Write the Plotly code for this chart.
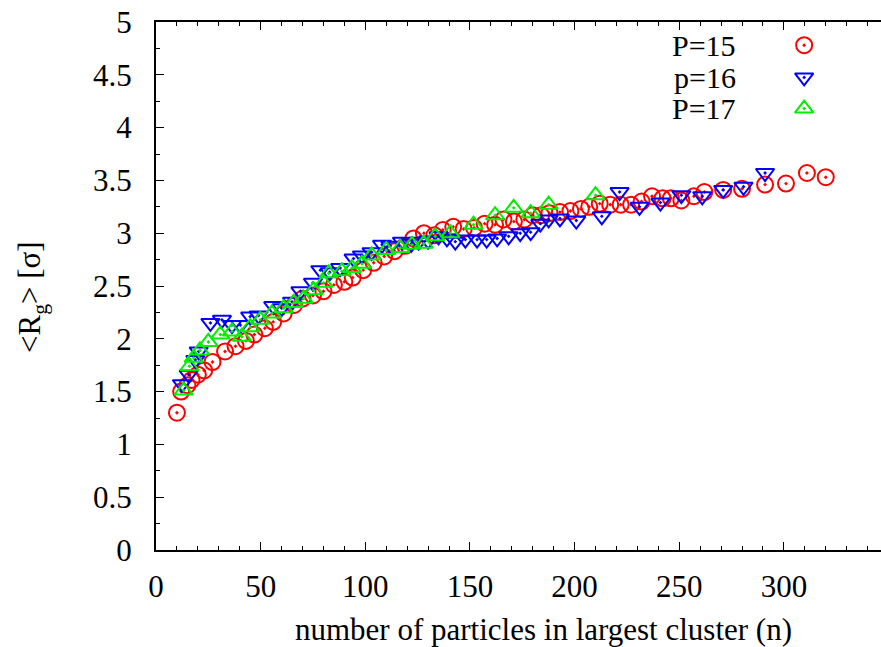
import plotly.graph_objects as go

# ---------------- data ----------------
p15_n = [10, 12, 15, 17, 20, 23, 27, 33, 38, 43, 47, 52, 56, 61, 66, 70, 75, 80, 85, 90,
         94, 99, 104, 109, 114, 119, 123, 128, 133, 137, 142, 147, 152, 157, 162, 166, 171,
         176, 180, 184, 188, 193, 198, 203, 207, 212, 217, 222, 227, 232, 237, 242, 246,
         251, 257, 262, 271, 280, 291, 301, 311, 320]
p15_r = [1.30, 1.50, 1.56, 1.61, 1.66, 1.70, 1.78, 1.88, 1.93, 1.98, 2.04, 2.10, 2.16, 2.24,
         2.32, 2.38, 2.41, 2.45, 2.51, 2.54, 2.58, 2.65, 2.72, 2.78, 2.83, 2.88, 2.95, 3.00,
         2.98, 3.03, 3.06, 3.04, 3.05, 3.09, 3.08, 3.13, 3.11, 3.13, 3.17, 3.17, 3.19, 3.20,
         3.21, 3.23, 3.25, 3.28, 3.27, 3.27, 3.27, 3.30, 3.35, 3.33, 3.33, 3.31, 3.35, 3.39,
         3.41, 3.42, 3.46, 3.47, 3.57, 3.53]

p16_n = [12.4, 15.6, 18.8, 20.4, 26, 31.5, 36.3, 40.3, 45, 49, 56, 60, 65, 69, 75, 78.5, 83,
         88, 94.4, 98.4, 103, 108, 112, 117.5, 122, 125.5, 130, 135, 139, 143, 147.8, 153.4,
         158, 163, 168.5, 174, 179, 183.6, 187.6, 193, 200.8, 213, 221.5, 231, 241, 251, 261,
         271, 280.7, 291]
p16_r = [1.57, 1.66, 1.80, 1.88, 2.15, 2.18, 2.13, 2.13, 2.21, 2.22, 2.31, 2.29, 2.35, 2.45,
         2.53, 2.65, 2.63, 2.67, 2.76, 2.79, 2.82, 2.89, 2.88, 2.92, 2.90, 2.92, 2.93, 2.97,
         2.95, 2.92, 2.94, 2.94, 2.94, 2.95, 2.97, 3.00, 3.01, 3.09, 3.13, 3.14, 3.12, 3.16,
         3.39, 3.25, 3.29, 3.36, 3.35, 3.41, 3.44, 3.57]

p17_n = [13.2, 16, 18, 21, 25, 30.7, 36.3, 41, 45, 49.8, 55.4, 61, 65.7, 70.5, 75.3, 80, 82.5,
         88.8, 93.6, 98.4, 103, 110, 116.7, 122.3, 127.9, 133.4, 140.6, 151.7, 162, 170.9,
         179, 187.6, 210]
p17_r = [1.51, 1.74, 1.82, 1.89, 1.97, 2.04, 2.07, 2.02, 2.11, 2.18, 2.24, 2.29, 2.34, 2.38,
         2.46, 2.53, 2.62, 2.64, 2.67, 2.71, 2.79, 2.84, 2.86, 2.89, 2.90, 2.97, 3.00, 3.08,
         3.17, 3.24, 3.19, 3.27, 3.36]

series_names = ["P=15", "p=16", "P=17"]
colors = ["#ff0000", "#0000ff", "#00ee00"]
symbols = ["circle-open-dot", "triangle-down-open-dot", "triangle-up-open-dot"]
sizes = [16, 16, 16]

FONT = "'Liberation Serif', 'Times New Roman', Times, serif"
FS = 31

fig = go.Figure()
for n, r, c, s, sz, name in zip([p15_n, p16_n, p17_n], [p15_r, p16_r, p17_r], colors,
                                symbols, sizes, series_names):
    fig.add_trace(go.Scatter(x=n, y=r, mode="markers", name=name, showlegend=False,
                             marker=dict(symbol=s, size=sz, color=c, line=dict(width=2, color=c))))

# custom legend (text left, symbol right, like gnuplot)
leg_y = [0.956, 0.895, 0.836]
for name, c, s, sz, yy in zip(series_names, colors, symbols, sizes, leg_y):
    fig.add_trace(go.Scatter(x=[0.894], y=[yy], xaxis="x2", yaxis="y2", mode="markers",
                             showlegend=False, hoverinfo="skip",
                             marker=dict(symbol=s, size=sz, color=c, line=dict(width=2, color=c))))
    fig.add_annotation(x=0.803, y=yy, xref="paper", yref="paper", text=name, showarrow=False,
                       xanchor="right", yanchor="middle", font=dict(family=FONT, size=30, color="black"))

W, H = 881, 647
L, T, B = 156, 22, 97
px_per_unit = 2.093
xmax = (W - L) / px_per_unit

fig.update_layout(
    width=W, height=H,
    margin=dict(l=L, r=0, t=T, b=B),
    paper_bgcolor="white", plot_bgcolor="white",
    font=dict(family=FONT, size=FS, color="black"),
    xaxis=dict(range=[0, xmax], dtick=50, tick0=0, showgrid=False, zeroline=False,
               showline=True, linewidth=2, linecolor="black", mirror="ticks",
               ticks="inside", ticklen=8, tickwidth=1, tickcolor="black",
               minor=dict(dtick=10, ticks="inside", ticklen=4, tickwidth=1, tickcolor="black"),
               ticklabelstandoff=8,
               tickfont=dict(family=FONT, size=FS, color="black")),
    yaxis=dict(range=[0, 5], dtick=0.5, tick0=0, showgrid=False, zeroline=False,
               showline=True, linewidth=2, linecolor="black", mirror=False,
               ticks="inside", ticklen=8, tickwidth=1, tickcolor="black",
               minor=dict(dtick=0.25, ticks="inside", ticklen=4, tickwidth=1, tickcolor="black"),
               ticklabelstandoff=16,
               tickfont=dict(family=FONT, size=FS, color="black")),
    xaxis2=dict(range=[0, 1], overlaying="x", visible=False, fixedrange=True),
    yaxis2=dict(range=[0, 1], overlaying="y", visible=False, fixedrange=True),
)

fig.add_annotation(x=(543 - L) / (W - L), y=-(629 - (H - B)) / (H - B - T), xref="paper", yref="paper",
                   text="number of particles in largest cluster (n)", showarrow=False,
                   xanchor="center", yanchor="middle",
                   font=dict(family=FONT, size=FS, color="black"))
fig.add_annotation(x=-(L - 32) / (W - L), y=(H - B - 297) / (H - B - T), xref="paper", yref="paper",
                   text="&lt;R<sub>g</sub>&gt; [σ]", showarrow=False, textangle=-90,
                   xanchor="center", yanchor="middle",
                   font=dict(family=FONT, size=FS, color="black"))

fig.write_html("out.html")
